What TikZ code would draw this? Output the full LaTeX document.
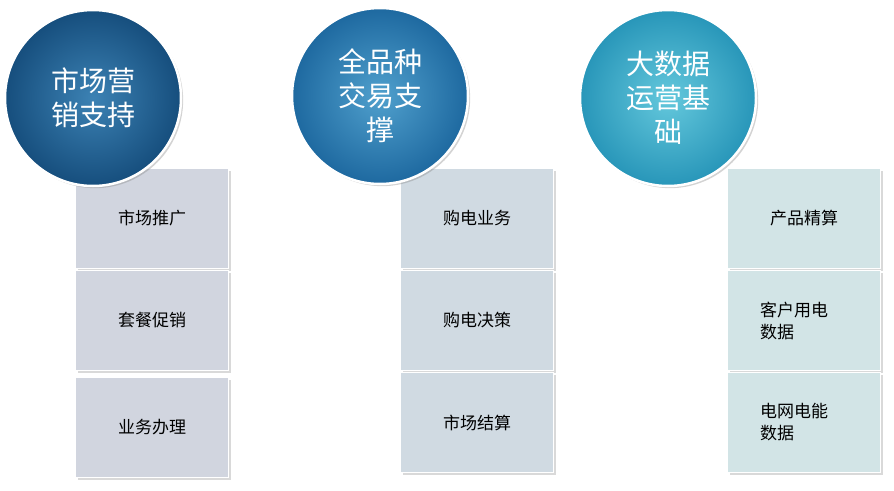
\documentclass[tikz,border=0pt]{standalone}
\usepackage{fontspec}
\newfontfamily\cjk{Noto Sans CJK SC}
\usetikzlibrary{shadows}
\begin{document}
\begin{tikzpicture}[x=1pt,y=-1pt,
  circ/.style={circle,draw=white,line width=2.5pt,minimum size=176pt,inner sep=0pt,align=center,text=white,font=\cjk\fontsize{28}{34}\selectfont,drop shadow={opacity=0.35}},
  cell/.style={draw=white,line width=1pt,minimum width=153pt,minimum height=100pt,anchor=north west,inner sep=0pt,font=\cjk\fontsize{17}{22}\selectfont,drop shadow={opacity=0.3,shadow xshift=2pt,shadow yshift=-2pt}},
  cellL/.style={cell,text width=120pt,align=left}]
\useasboundingbox (0,0) rectangle (894,490);
\node[cell,fill=gray!5!blue!8!white!82!black!0,fill={rgb,255:red,209;green,213;blue,223}] (a1) at (75,168) {市场推广};
\node[cell,fill={rgb,255:red,209;green,213;blue,223}] (a2) at (75,270) {套餐促销};
\node[cell,fill={rgb,255:red,209;green,213;blue,223}] (a3) at (75,377) {业务办理};
\node[cell,fill={rgb,255:red,208;green,218;blue,226}] (b1) at (400,168) {购电业务};
\node[cell,fill={rgb,255:red,208;green,218;blue,226}] (b2) at (400,270) {购电决策};
\node[cell,fill={rgb,255:red,208;green,218;blue,226}] (b3) at (400,372) {市场结算};
\node[cell,fill={rgb,255:red,210;green,228;blue,230}] (c1) at (727,168) {产品精算};
\node[cellL,fill={rgb,255:red,210;green,228;blue,230}] (c2) at (727,270) {\hspace*{16pt}客户用电\\\hspace*{16pt}数据};
\node[cellL,fill={rgb,255:red,210;green,228;blue,230}] (c3) at (727,372) {\hspace*{16pt}电网电能\\\hspace*{16pt}数据};
\node[circ,inner color={rgb,255:red,60;green,130;blue,180},outer color={rgb,255:red,22;green,78;blue,125}] (k1) at (93,98) {市场营\\销支持};
\node[circ,inner color={rgb,255:red,80;green,160;blue,205},outer color={rgb,255:red,30;green,105;blue,160}] (k2) at (380,96) {全品种\\交易支\\撑};
\node[circ,inner color={rgb,255:red,100;green,200;blue,220},outer color={rgb,255:red,40;green,150;blue,185}] (k3) at (668,98) {大数据\\运营基\\础};
\end{tikzpicture}
\end{document}
